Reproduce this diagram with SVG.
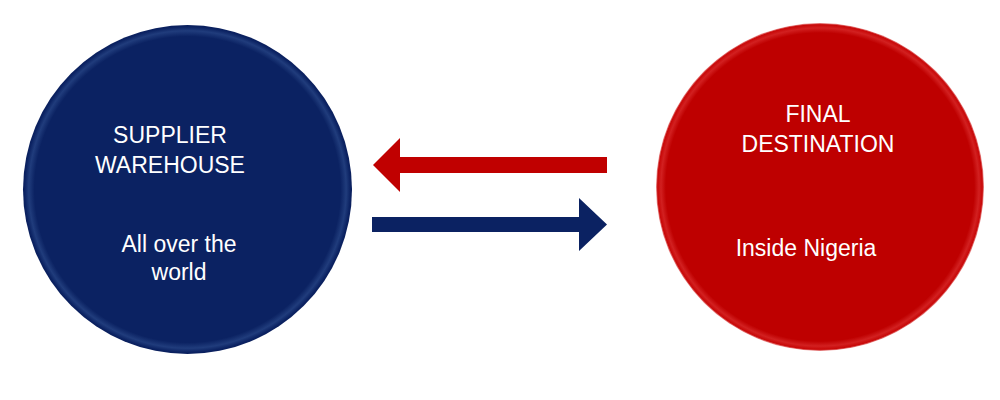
<svg xmlns="http://www.w3.org/2000/svg" width="1000" height="400" viewBox="0 0 1000 400">
  <defs>
    <radialGradient id="gBlue" cx="50%" cy="50%" r="50%">
      <stop offset="0%" stop-color="#0b2262"/>
      <stop offset="93%" stop-color="#0b2262"/>
      <stop offset="96.5%" stop-color="#203c7c"/>
      <stop offset="99%" stop-color="#0b2262"/>
      <stop offset="100%" stop-color="#0a1f5c"/>
    </radialGradient>
    <radialGradient id="gRed" cx="50%" cy="50%" r="50%">
      <stop offset="0%" stop-color="#be0000"/>
      <stop offset="94%" stop-color="#be0000"/>
      <stop offset="97%" stop-color="#d22020"/>
      <stop offset="99%" stop-color="#c80808"/>
      <stop offset="100%" stop-color="#eb9a9a"/>
    </radialGradient>
  </defs>
  <style>
    .lbl { font-family: "Liberation Sans", Arial, sans-serif; font-size: 23px; fill: #ffffff; text-anchor: middle; }
  </style>
  <rect width="1000" height="400" fill="#ffffff"/>
  <g id="supplier">
    <circle cx="187.5" cy="189.5" r="164.5" fill="url(#gBlue)"/>
    <text class="lbl" x="170" y="143">SUPPLIER</text>
    <text class="lbl" x="170" y="173">WAREHOUSE</text>
    <text class="lbl" x="179" y="252">All over the</text>
    <text class="lbl" x="179" y="280">world</text>
  </g>
  <g id="destination">
    <circle cx="820" cy="187" r="164" fill="url(#gRed)"/>
    <text class="lbl" x="818" y="122">FINAL</text>
    <text class="lbl" x="818" y="152">DESTINATION</text>
    <text class="lbl" x="806" y="256">Inside Nigeria</text>
  </g>
  <g id="connectors">
    <polygon points="607,157 400,157 400,138 373,165 400,192 400,173 607,173" fill="#c00000"/>
    <polygon points="372,217 579,217 579,198 607,224.5 579,251 579,232 372,232" fill="#0b2262"/>
  </g>
</svg>
